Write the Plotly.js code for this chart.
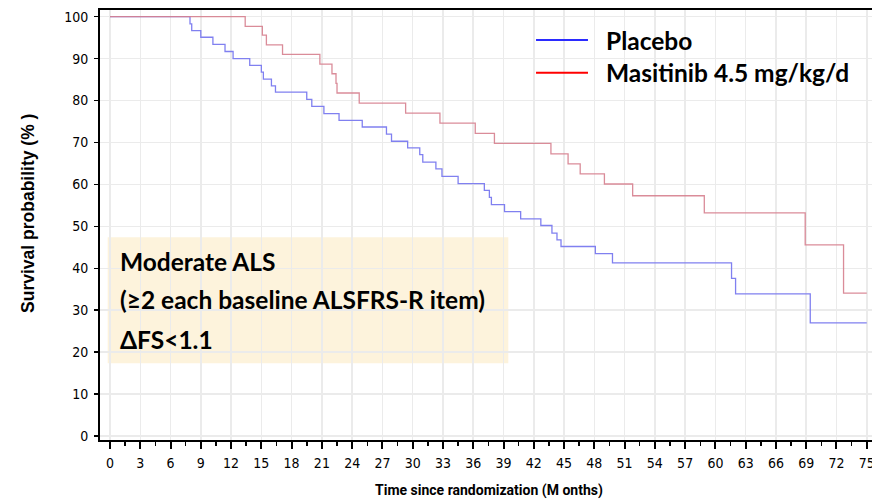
<!DOCTYPE html>
<html>
<head>
<meta charset="utf-8">
<script src="https://cdn.plot.ly/plotly-3.0.1.min.js"></script>
<style>html,body{margin:0;padding:0;background:#fff;}#chart{width:872px;height:500px;}</style>
</head>
<body>
<div id="chart"></div>
<script>
// Kaplan-Meier step data (months, survival %)
const placeboTime = [0, 7.93, 8.1, 9.0, 10.2, 11.4, 12.2, 13.85, 15.0, 15.2, 16.0, 16.4, 19.5, 20.0, 21.2, 22.7, 25.0, 27.4, 27.9, 29.5, 30.7, 31.0, 32.3, 32.9, 34.5, 37.1, 37.6, 37.8, 39.1, 40.7, 42.7, 43.8, 44.3, 44.7, 48.1, 49.8, 61.6, 62.0, 69.4, 75.0];
const placeboSurv = [100, 98.3, 96.7, 95.1, 93.4, 91.7, 90.0, 88.4, 86.8, 85.1, 83.5, 82.0, 80.3, 78.6, 76.9, 75.3, 73.7, 72.0, 70.3, 68.7, 67.1, 65.3, 63.7, 61.9, 60.2, 58.6, 56.9, 55.2, 53.5, 51.8, 50.2, 48.4, 46.8, 45.2, 43.5, 41.3, 37.6, 33.9, 27.0, 27.0];
const masitinibTime = [0, 13.4, 15.1, 15.5, 17.1, 20.8, 22.0, 22.4, 22.5, 24.7, 29.3, 32.7, 36.2, 38.1, 43.7, 45.4, 46.6, 49.0, 51.8, 58.9, 68.9, 72.7, 75.0];
const masitinibSurv = [100, 97.7, 95.6, 93.3, 91.0, 88.7, 86.4, 84.1, 81.8, 79.4, 77.0, 74.6, 72.2, 69.8, 67.3, 64.9, 62.5, 60.1, 57.3, 53.2, 45.6, 34.1, 34.1];
const seriesNames = ["Placebo", "Masitinib 4.5 mg/kg/d"];
const boxLines = ["Moderate ALS", "(\u22652 each baseline ALSFRS-R item)", "\u0394FS<1.1"];
const xTitle = "Time since randomization (M onths)";
const yTitle = "Survival probability (% )";

const tickFont = {family: "'Liberation Sans Narrow', 'DejaVu Sans Condensed', Arial, sans-serif", size: 14, color: "#000"};
const boxFont = {family: "Lato, 'Open Sans', sans-serif", size: 24.5, color: "#000", weight: 700};

const traces = [
  {x: placeboTime, y: placeboSurv, name: seriesNames[0], mode: "lines", line: {shape: "hv", color: "rgb(128,128,240)", width: 1.3}, showlegend: false, hoverinfo: "skip"},
  {x: masitinibTime, y: masitinibSurv, name: seriesNames[1], mode: "lines", line: {shape: "hv", color: "rgb(214,128,142)", width: 1.3}, showlegend: false, hoverinfo: "skip", opacity: 0.9}
];

const layout = {
  width: 872, height: 500,
  margin: {l: 100, r: 0, t: 10, b: 60},
  paper_bgcolor: "#fff", plot_bgcolor: "#fff",
  showlegend: false,
  xaxis: {
    range: [-0.99, 75.52], tickmode: "linear", tick0: 0, dtick: 3,
    ticks: "outside", ticklen: 7, tickwidth: 2, tickcolor: "#000",
    minor: {dtick: 1.5, tick0: 0, ticks: "outside", ticklen: 4, tickwidth: 1.5, tickcolor: "#000", showgrid: false},
    showline: true, linewidth: 2, linecolor: "#000", mirror: true,
    showgrid: true, gridcolor: "#ebebeb", gridwidth: 1.5, zeroline: false,
    tickfont: tickFont, ticklabelstandoff: 2, ticklabeloverflow: "allow"
  },
  yaxis: {
    range: [-0.95, 101.6], tickmode: "linear", tick0: 0, dtick: 10,
    ticks: "outside", ticklen: 4, tickwidth: 1.5, tickcolor: "#000",
    showline: true, linewidth: 2, linecolor: "#000",
    showgrid: true, gridcolor: "#ebebeb", gridwidth: 1.5, zeroline: false,
    tickfont: tickFont, ticklabelstandoff: 3
  },
  shapes: [
    {type: "rect", xref: "paper", yref: "paper", x0: 0.549, x1: 1.0, y0: 0.7977, y1: 0.993, fillcolor: "#fff", line: {width: 0}, layer: "between"},
    {type: "rect", xref: "paper", yref: "paper", x0: 0.00997, x1: 0.5289, y0: 0.1784, y1: 0.4714, fillcolor: "rgb(253,243,220)", line: {width: 0}, layer: "between"},
    {type: "line", xref: "paper", yref: "paper", x0: 0.5648, x1: 0.6321, y0: 0.9302, y1: 0.9302, line: {color: "#2b2bff", width: 2}},
    {type: "line", xref: "paper", yref: "paper", x0: 0.5648, x1: 0.6321, y0: 0.8542, y1: 0.8542, line: {color: "#ff0000", width: 2}}
  ],
  annotations: [
    {text: seriesNames[0], xref: "paper", yref: "paper", x: 0.6528, y: 0.9302, xanchor: "left", yanchor: "middle", showarrow: false, font: boxFont},
    {text: seriesNames[1], xref: "paper", yref: "paper", x: 0.6528, y: 0.8542, xanchor: "left", yanchor: "middle", showarrow: false, font: boxFont},
    {text: boxLines[0], xref: "paper", yref: "paper", x: 0.0233, y: 0.4147, xanchor: "left", yanchor: "middle", showarrow: false, font: boxFont},
    {text: boxLines[1], xref: "paper", yref: "paper", x: 0.0233, y: 0.3256, xanchor: "left", yanchor: "middle", showarrow: false, font: boxFont},
    {text: boxLines[2], xref: "paper", yref: "paper", x: 0.0233, y: 0.2326, xanchor: "left", yanchor: "middle", showarrow: false, font: boxFont},
    {text: xTitle, xref: "paper", yref: "paper", x: 0.5039, y: -0.1186, xanchor: "center", yanchor: "middle", showarrow: false,
     font: {family: "Roboto, 'Liberation Sans', Arial, sans-serif", size: 14, color: "#000", weight: 700}},
    {text: yTitle, xref: "paper", yref: "paper", x: -0.0933, y: 0.528, xanchor: "center", yanchor: "middle", textangle: -90, showarrow: false,
     font: {family: "'Liberation Sans', Arial, sans-serif", size: 17.5, color: "#000", weight: 700}}
  ]
};

Plotly.newPlot("chart", traces, layout, {staticPlot: true, displayModeBar: false});
</script>
</body>
</html>
